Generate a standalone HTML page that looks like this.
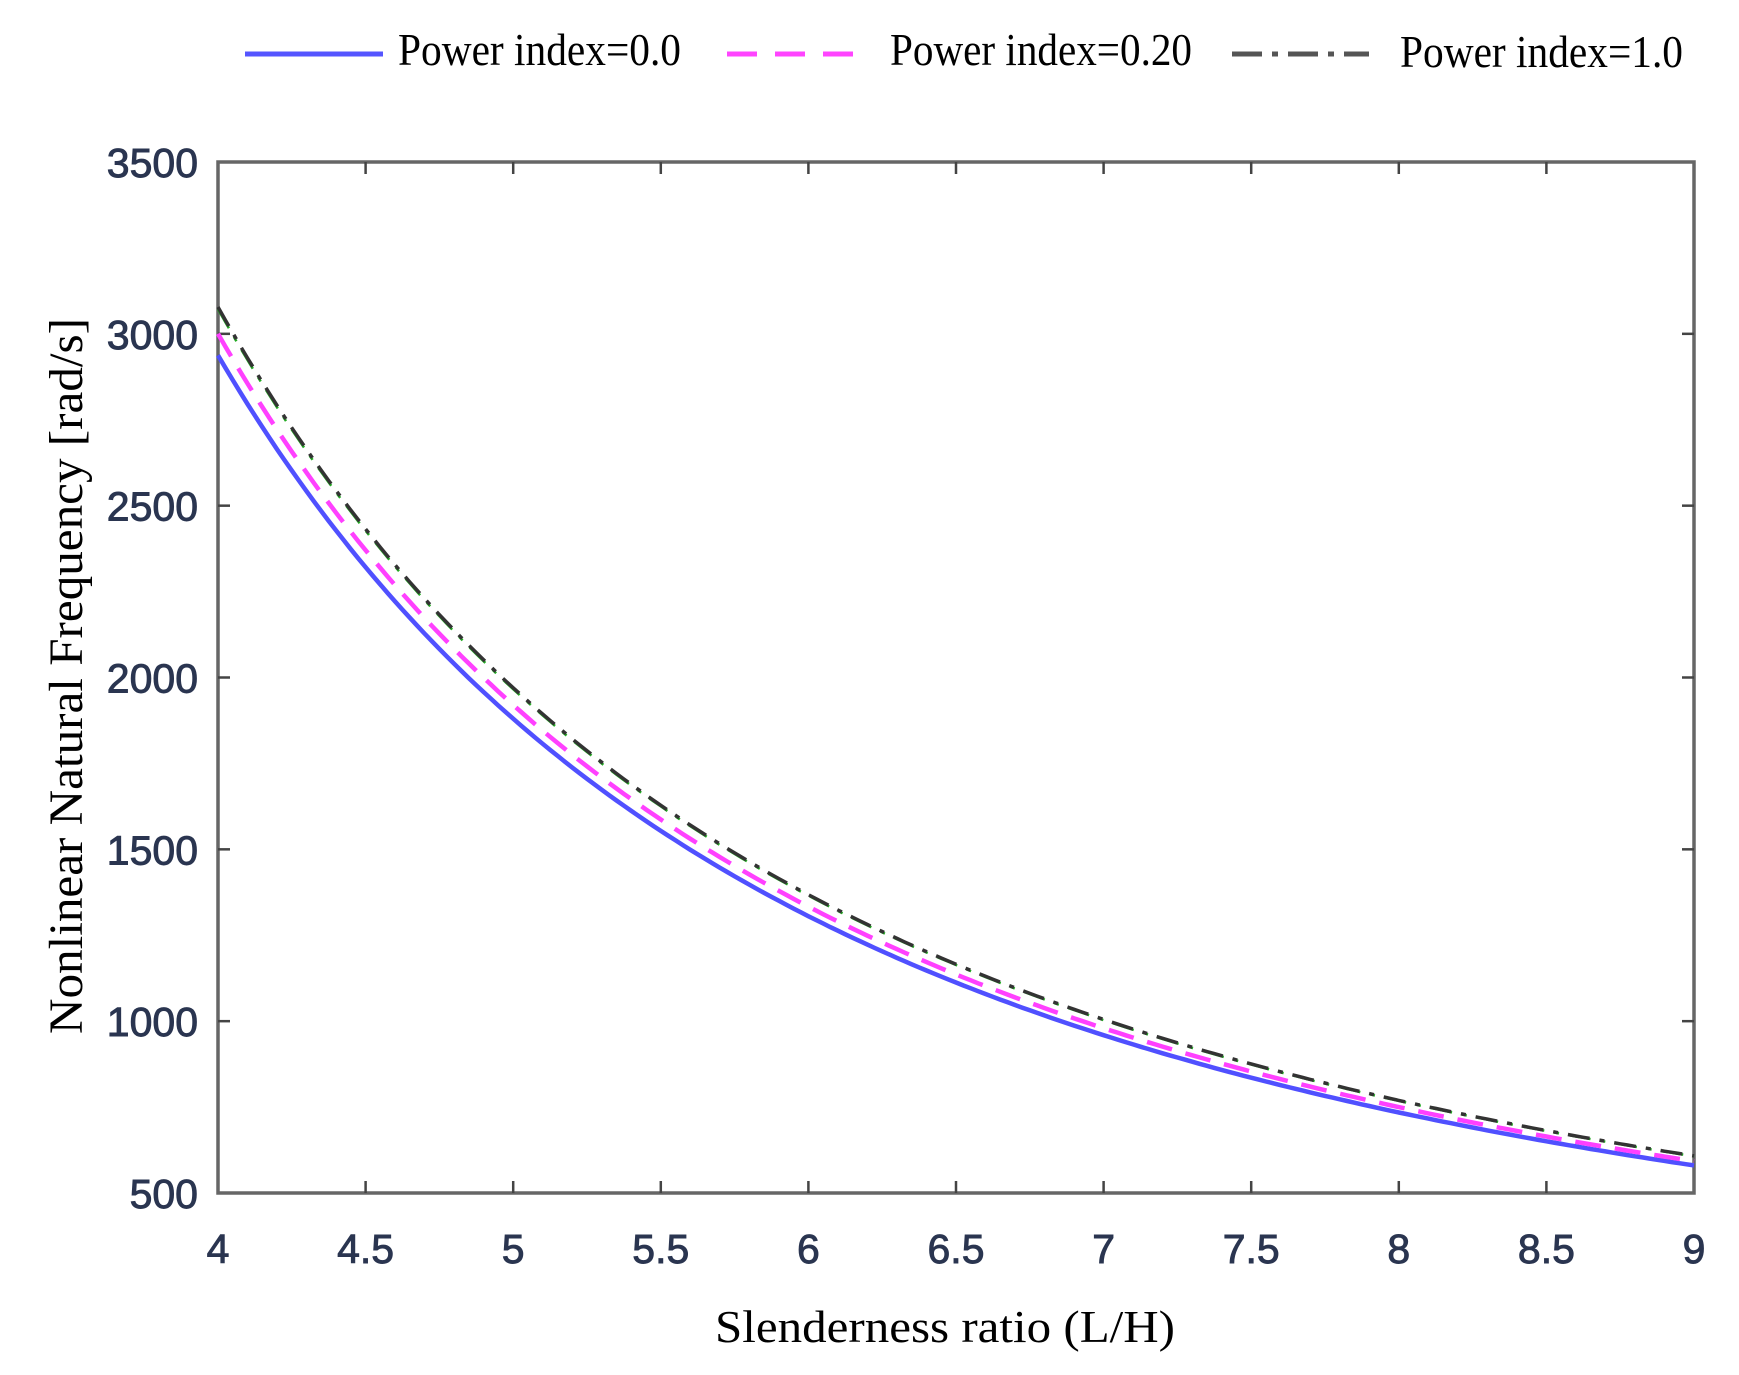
<!DOCTYPE html>
<html><head><style>body{margin:0;background:#fff}svg{display:block}</style></head>
<body>
<svg width="1739" height="1375" viewBox="0 0 1739 1375" xmlns="http://www.w3.org/2000/svg">
<rect width="1739" height="1375" fill="#fff"/>
<g font-family="Liberation Serif, serif" font-size="46" fill="#000">
<line x1="245" y1="54" x2="383" y2="54" stroke="#5555ff" stroke-width="5"/>
<text x="398" y="65" textLength="283" lengthAdjust="spacingAndGlyphs">Power index=0.0</text>
<line x1="727" y1="54" x2="864" y2="54" stroke="#ff44ff" stroke-width="5" stroke-dasharray="30,18"/>
<text x="890" y="65" textLength="302" lengthAdjust="spacingAndGlyphs">Power index=0.20</text>
<line x1="1232" y1="54" x2="1369" y2="54" stroke="#555" stroke-width="5" stroke-dasharray="30,10,6,10"/>
<text x="1400" y="67" textLength="283" lengthAdjust="spacingAndGlyphs">Power index=1.0</text>
</g>
<g stroke="#666" stroke-width="3.5" fill="none">
<rect x="218" y="162" width="1476" height="1031"/>
</g>
<g id="ticks" stroke="#444" stroke-width="2.5"></g>
<g id="curves" fill="none"></g>
<g id="labels" font-family="Liberation Sans, sans-serif" font-size="41" fill="#2a3550" stroke="#2a3550" stroke-width="0.9"></g>
<text x="945" y="1342" font-family="Liberation Serif, serif" font-size="46" text-anchor="middle" textLength="460" lengthAdjust="spacingAndGlyphs">Slenderness ratio (L/H)</text>
<text transform="translate(82,676) rotate(-90)" font-family="Liberation Serif, serif" font-size="48" text-anchor="middle" textLength="716" lengthAdjust="spacingAndGlyphs">Nonlinear Natural Frequency [rad/s]</text>
<script>
var ns="http://www.w3.org/2000/svg";
function X(x){return 218+(x-4)/5*1476;}
function Y(v){return 1193-(v-500)/3000*1031;}
function el(t,a,p,txt){var e=document.createElementNS(ns,t);for(var k in a)e.setAttribute(k,a[k]);if(txt)e.textContent=txt;document.getElementById(p).appendChild(e);}
for(var i=0;i<=10;i++){var x=X(4+i*0.5);
 if(i>0&&i<10){el('line',{x1:x,y1:1193,x2:x,y2:1181},'ticks');el('line',{x1:x,y1:162,x2:x,y2:174},'ticks');}
 el('text',{x:x,y:1263,'text-anchor':'middle'},'labels',String(4+i*0.5));}
for(var j=0;j<=6;j++){var v=500+j*500,y=Y(v);
 if(j>0&&j<6){el('line',{x1:218,y1:y,x2:230,y2:y},'ticks');el('line',{x1:1694,y1:y,x2:1682,y2:y},'ticks');}
 el('text',{x:198,y:y+15,'text-anchor':'end'},'labels',String(v));}
function path(C){var d="";for(var k=0;k<=200;k++){var x=4+k*5/200;d+=(k?"L":"M")+X(x).toFixed(1)+","+Y(C/(x*x)).toFixed(1);}return d;}
el('path',{d:path(47000),stroke:'#5050ff','stroke-width':4.5},'curves');
el('path',{d:path(48000),stroke:'#ff40ff','stroke-width':4.5,'stroke-dasharray':'26,14'},'curves');
el('path',{d:path(49150),stroke:'#22aa22','stroke-width':2.5,'stroke-dasharray':'22,10,5,10'},'curves');
el('path',{d:path(49250),stroke:'#333','stroke-width':3.5,'stroke-dasharray':'22,10,5,10'},'curves');
</script>
</svg>
</body></html>
